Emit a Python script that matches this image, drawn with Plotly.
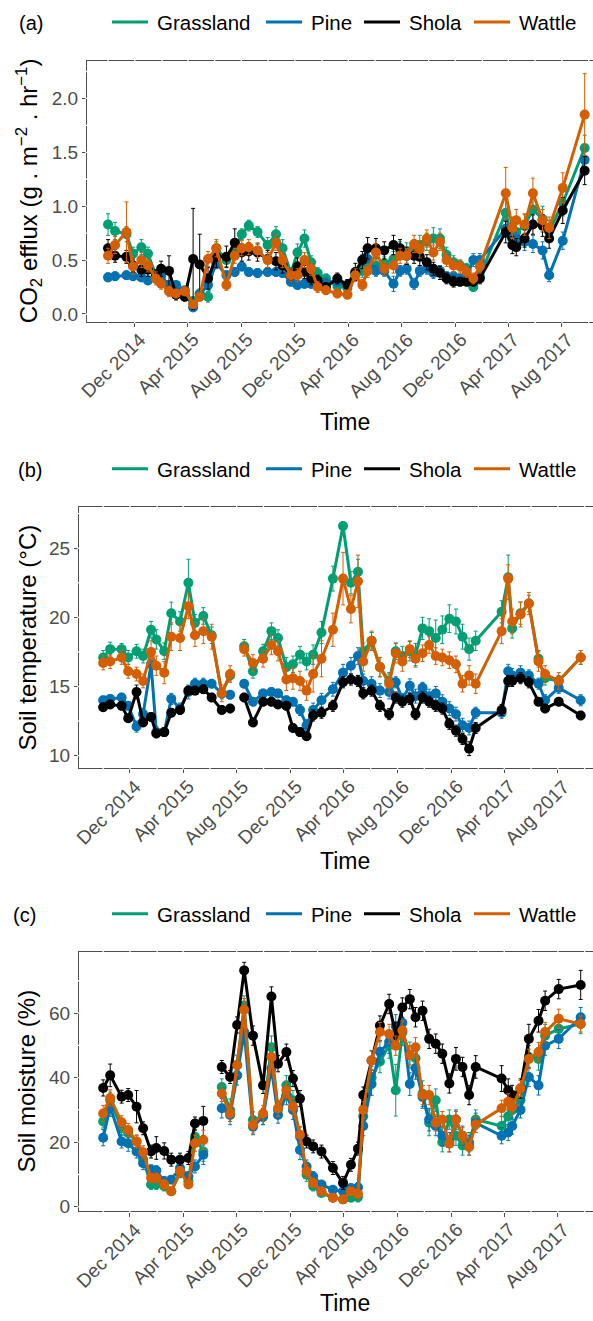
import plotly.graph_objects as go

# ---------------- data ----------------
dates = ["2014-10-01", "2014-10-17", "2014-11-12", "2014-11-27", "2014-12-16", "2014-12-31",
         "2015-01-18", "2015-01-30", "2015-02-17", "2015-03-05", "2015-03-25", "2015-04-13", "2015-04-28",
         "2015-05-17", "2015-06-05", "2015-06-28", "2015-07-17", "2015-08-02", "2015-08-18", "2015-09-07",
         "2015-09-30", "2015-10-19", "2015-11-03", "2015-11-22", "2015-12-07", "2015-12-23", "2016-01-07",
         "2016-01-22", "2016-02-10", "2016-03-07", "2016-03-30", "2016-04-17", "2016-05-03", "2016-05-15",
         "2016-06-03", "2016-06-22", "2016-07-13", "2016-07-28", "2016-08-12", "2016-08-29", "2016-09-11",
         "2016-09-27", "2016-10-12", "2016-10-27", "2016-11-11", "2016-11-27", "2016-12-12", "2016-12-27",
         "2017-01-11", "2017-01-26", "2017-03-26", "2017-04-10", "2017-04-19", "2017-05-08", "2017-05-27",
         "2017-06-18", "2017-07-03", "2017-08-03", "2017-09-22"]

series = ["Grassland", "Pine", "Shola", "Wattle"]

tick_dates = ["2014-12-01", "2015-04-01", "2015-08-01", "2015-12-01", "2016-04-01",
              "2016-08-01", "2016-12-01", "2017-04-01", "2017-08-01"]
tick_labels = ["Dec 2014", "Apr 2015", "Aug 2015", "Dec 2015", "Apr 2016",
               "Aug 2016", "Dec 2016", "Apr 2017", "Aug 2017"]

# (a) CO2 efflux (g m-2 hr-1)
co2_grassland = [0.83, 0.77, 0.74, 0.56, 0.62, 0.56, 0.36, 0.31, 0.27, 0.24,
                 0.19, 0.12, 0.19, 0.16, 0.61, 0.50, 0.59, 0.74, 0.82, 0.76,
                 0.64, 0.74, 0.61, 0.38, 0.57, 0.70, 0.48, 0.38, 0.33, 0.26,
                 0.24, 0.38, 0.40, 0.42, 0.45, 0.47, 0.51, 0.59, 0.58, 0.61,
                 0.64, 0.67, 0.70, 0.70, 0.55, 0.48, 0.45, 0.42, 0.25, 0.35,
                 0.94, 0.70, 0.76, 0.82, 0.97, 0.88, 0.77, 1.03, 1.54]
co2_pine = [0.34, 0.35, 0.36, 0.35, 0.34, 0.31, 0.33, 0.35, 0.27, 0.27,
            0.22, 0.06, 0.18, 0.27, 0.47, 0.36, 0.39, 0.44, 0.39, 0.38,
            0.39, 0.39, 0.38, 0.30, 0.27, 0.28, 0.28, 0.28, 0.29, 0.30,
            0.27, 0.38, 0.50, 0.51, 0.40, 0.40, 0.28, 0.40, 0.42, 0.28,
            0.40, 0.42, 0.38, 0.40, 0.35, 0.35, 0.33, 0.36, 0.50, 0.50,
            0.79, 0.70, 0.70, 0.67, 0.65, 0.59, 0.36, 0.68, 1.43]
co2_shola = [0.61, 0.54, 0.53, 0.45, 0.41, 0.41, 0.35, 0.42, 0.40, 0.18,
             0.16, 0.51, 0.46, 0.33, 0.53, 0.53, 0.66, 0.57, 0.58, 0.57,
             0.51, 0.49, 0.45, 0.36, 0.44, 0.39, 0.33, 0.31, 0.25, 0.33,
             0.27, 0.39, 0.50, 0.61, 0.61, 0.59, 0.64, 0.61, 0.54, 0.54,
             0.53, 0.48, 0.42, 0.38, 0.33, 0.30, 0.30, 0.30, 0.30, 0.33,
             0.76, 0.64, 0.62, 0.70, 0.83, 0.82, 0.70, 0.96, 1.33]
co2_wattle = [0.54, 0.64, 0.76, 0.44, 0.50, 0.45, 0.33, 0.28, 0.21, 0.19,
              0.21, 0.09, 0.16, 0.51, 0.61, 0.27, 0.54, 0.61, 0.62, 0.59,
              0.50, 0.66, 0.50, 0.36, 0.36, 0.50, 0.42, 0.25, 0.22, 0.19,
              0.18, 0.36, 0.27, 0.40, 0.57, 0.42, 0.45, 0.54, 0.54, 0.65,
              0.60, 0.70, 0.57, 0.67, 0.50, 0.45, 0.44, 0.39, 0.33, 0.44,
              1.12, 0.80, 0.87, 0.83, 1.12, 0.87, 0.80, 1.17, 1.85]
co2_grassland_se = [0.10, 0.08, 0.07, 0.06, 0.07, 0.06, 0.05, 0.05, 0.04, 0.04,
                    0.04, 0.03, 0.04, 0.05, 0.06, 0.06, 0.06, 0.05, 0.05, 0.05,
                    0.07, 0.07, 0.08, 0.05, 0.08, 0.08, 0.06, 0.05, 0.04, 0.04,
                    0.04, 0.05, 0.06, 0.06, 0.06, 0.06, 0.07, 0.08, 0.08, 0.08,
                    0.09, 0.08, 0.10, 0.09, 0.07, 0.06, 0.05, 0.05, 0.04, 0.05,
                    0.13, 0.10, 0.09, 0.10, 0.10, 0.12, 0.10, 0.12, 0.12]
co2_pine_se = [0.04, 0.04, 0.04, 0.04, 0.04, 0.03, 0.04, 0.04, 0.03, 0.03,
               0.03, 0.02, 0.03, 0.04, 0.05, 0.04, 0.04, 0.04, 0.04, 0.04,
               0.04, 0.04, 0.04, 0.04, 0.04, 0.04, 0.04, 0.04, 0.04, 0.04,
               0.04, 0.05, 0.05, 0.05, 0.05, 0.05, 0.07, 0.05, 0.05, 0.05,
               0.05, 0.05, 0.05, 0.05, 0.04, 0.04, 0.04, 0.04, 0.06, 0.06,
               0.08, 0.08, 0.08, 0.08, 0.08, 0.08, 0.06, 0.08, 0.10]
co2_shola_se = [0.08, 0.06, 0.06, 0.06, 0.06, 0.06, 0.06, 0.07, 0.14, 0.05,
                0.04, 0.47, 0.28, 0.10, 0.10, 0.10, 0.13, 0.08, 0.08, 0.08,
                0.08, 0.08, 0.07, 0.06, 0.08, 0.06, 0.06, 0.05, 0.04, 0.05,
                0.05, 0.08, 0.08, 0.10, 0.09, 0.08, 0.09, 0.08, 0.08, 0.07,
                0.08, 0.07, 0.06, 0.06, 0.05, 0.05, 0.04, 0.04, 0.04, 0.05,
                0.10, 0.08, 0.08, 0.08, 0.09, 0.10, 0.09, 0.12, 0.13]
co2_wattle_se = [0.07, 0.08, 0.28, 0.07, 0.07, 0.06, 0.06, 0.05, 0.05, 0.04,
                 0.04, 0.03, 0.04, 0.07, 0.08, 0.05, 0.07, 0.07, 0.07, 0.07,
                 0.07, 0.07, 0.07, 0.06, 0.06, 0.07, 0.06, 0.05, 0.04, 0.04,
                 0.04, 0.06, 0.05, 0.06, 0.08, 0.06, 0.07, 0.07, 0.07, 0.08,
                 0.08, 0.08, 0.07, 0.08, 0.06, 0.06, 0.06, 0.05, 0.05, 0.06,
                 0.24, 0.10, 0.10, 0.10, 0.14, 0.10, 0.10, 0.14, 0.38]

# (b) Soil temperature (deg C)
temp_grassland = [17.1, 17.7, 17.7, 17.1, 17.55, 17.2, 19.1, 18.4, 17.55, 20.3,
                  19.7, 22.5, 19.6, 20.1, 18.7, 14.5, 15.8, None, 17.9, 16.1,
                  17.55, 19.0, 18.5, 16.4, 16.6, 17.3, 16.8, 17.3, 18.9, 22.8,
                  26.6, 22.5, 23.3, 17.55, 18.3, 16.4, 15.4, 17.55, 17.2, 17.55,
                  17.3, 19.2, 19.0, 18.5, 19.1, 19.9, 19.7, 18.6, 17.7, 18.3,
                  20.4, 22.9, 19.2, 20.3, 21.0, 17.0, 15.6, 15.4, 17.1]
temp_pine = [14.0, 14.1, 14.2, 13.6, 12.1, 13.0, 16.6, 11.7, 11.7, 14.1,
             13.4, 14.6, 15.2, 15.2, 15.2, 14.5, 14.4, None, 15.2, 13.9,
             14.5, 14.6, 14.5, 14.0, 13.9, 13.3, 12.2, 13.3, 14.0, 14.8,
             16.0, 16.5, 17.2, 15.4, 15.2, 14.7, 14.6, 15.3, 14.1, 15.05,
             14.3, 14.9, 14.3, 14.5, 13.9, 13.4, 13.0, 12.2, 12.0, 13.1,
             13.1, 16.1, 15.8, 16.0, 15.8, 15.2, 14.0, 14.9, 14.0]
temp_shola = [13.5, 13.7, 13.6, 12.7, 14.6, 12.4, 12.8, 11.6, 11.7, 13.1,
              13.3, 14.7, 14.7, 14.8, 14.2, 13.3, 13.4, None, 14.2, 12.4,
              13.9, 13.9, 13.7, 13.6, 12.0, 11.7, 11.4, 12.9, 13.1, 13.6,
              15.3, 15.5, 15.4, 14.5, 14.7, 13.6, 13.0, 14.2, 13.9, 14.1,
              13.0, 14.2, 13.9, 13.6, 13.4, 12.3, 11.8, 11.2, 10.5, 12.0,
              13.3, 15.4, 15.4, 15.6, 15.3, 13.9, 13.4, 13.9, 12.9]
temp_wattle = [16.7, 16.8, 17.1, 16.1, 15.9, 15.4, 17.5, 16.5, 16.0, 18.6,
               18.5, 20.8, 18.7, 19.0, 18.6, 14.5, 15.9, None, 17.7, 16.7,
               17.0, 18.0, 17.55, 15.5, 15.6, 15.4, 14.7, 15.9, 17.0, 19.1,
               22.8, 20.6, 22.6, 16.8, 18.3, 16.4, 15.2, 17.4, 16.8, 17.7,
               17.0, 17.4, 18.0, 17.2, 17.1, 16.9, 16.6, 15.2, 15.8, 15.2,
               19.0, 22.8, 19.7, 20.2, 21.0, 16.8, 15.9, 15.4, 17.1]
temp_grassland_se = [0.5, 0.5, 0.4, 0.5, 0.5, 0.5, 0.6, 0.7, 0.6, 0.8,
                     0.7, 1.7, 0.6, 0.6, 0.6, 0.4, 0.4, 0, 0.5, 0.5,
                     0.5, 0.6, 0.6, 0.7, 0.6, 0.6, 0.6, 0.7, 0.8, 0.9,
                     0.3, 0.8, 0.9, 0.6, 0.6, 0.7, 0.6, 0.6, 0.7, 0.7,
                     0.8, 0.8, 0.9, 1.3, 1.0, 1.0, 0.9, 0.9, 0.8, 0.7,
                     0.8, 1.6, 0.7, 0.8, 0.6, 0.6, 0.5, 0.4, 0.5]
temp_pine_se = [0.3, 0.3, 0.3, 0.3, 0.4, 0.4, 0.8, 0.4, 0.3, 0.4,
                0.4, 0.5, 0.4, 0.4, 0.3, 0.3, 0.3, 0, 0.3, 0.3,
                0.3, 0.3, 0.3, 0.3, 0.3, 0.4, 0.4, 0.5, 0.5, 0.5,
                0.6, 0.6, 0.6, 0.5, 0.5, 0.5, 0.5, 0.4, 0.4, 0.5,
                0.5, 0.4, 0.5, 0.5, 0.5, 0.5, 0.5, 0.5, 0.5, 0.4,
                0.4, 0.5, 0.5, 0.5, 0.4, 0.4, 0.4, 0.4, 0.4]
temp_shola_se = [0.3, 0.3, 0.3, 0.3, 0.5, 0.3, 0.3, 0.3, 0.3, 0.3,
                 0.3, 0.3, 0.3, 0.3, 0.3, 0.3, 0.3, 0, 0.3, 0.3,
                 0.3, 0.3, 0.3, 0.3, 0.3, 0.3, 0.3, 0.4, 0.4, 0.4,
                 0.4, 0.4, 0.4, 0.4, 0.4, 0.4, 0.4, 0.4, 0.4, 0.4,
                 0.4, 0.4, 0.4, 0.4, 0.4, 0.4, 0.4, 0.4, 0.5, 0.4,
                 0.4, 0.4, 0.4, 0.4, 0.4, 0.3, 0.3, 0.3, 0.3]
temp_wattle_se = [0.5, 0.5, 0.5, 0.5, 0.5, 0.5, 0.8, 0.7, 0.8, 1.0,
                  0.9, 0.9, 0.8, 0.9, 0.9, 0.6, 0.6, 0, 0.5, 0.6,
                  0.6, 0.7, 0.7, 0.8, 0.8, 0.7, 0.7, 1.3, 1.3, 1.2,
                  1.9, 1.0, 1.9, 0.7, 0.7, 0.7, 0.7, 0.7, 0.7, 0.6,
                  0.6, 0.6, 0.6, 0.6, 0.6, 0.6, 0.6, 0.6, 0.7, 0.7,
                  0.9, 1.0, 0.9, 0.9, 0.8, 0.7, 0.6, 0.6, 0.5]

# (c) Soil moisture (%)
moist_grassland = [26.4, 33.0, 24.3, 22.8, 20.2, 14.6, 6.9, 6.9, 6.4, 4.8,
                   10.5, 7.9, 21.7, 17.1, None, 37.1, 29.9, 44.0, 62.3, 26.9,
                   28.0, 49.4, 30.0, 37.6, 33.0, 21.7, 9.9, 6.4, 4.3, 2.8,
                   2.3, 2.8, 3.0, 28.0, 40.0, 45.0, 50.0, 36.1, 54.0, 47.0,
                   46.0, 35.0, 26.0, 33.0, 20.0, 27.0, 22.0, 19.0, 20.0, 27.0,
                   25.0, 28.0, 30.0, 33.0, 46.4, 45.8, 53.0, 55.1, 56.6]
moist_pine = [21.4, 31.0, 20.2, 19.7, 17.1, 13.5, 11.5, 11.2, 7.9, 8.4,
              12.0, 9.4, 12.5, 16.1, None, 30.5, 28.4, 40.7, 54.1, 24.8,
              27.9, 42.8, 28.4, 34.6, 30.0, 17.6, 12.5, 9.4, 6.9, 5.3,
              4.8, 5.8, 6.0, 25.0, 38.0, 48.0, 51.0, 56.0, 57.0, 38.0,
              43.0, 34.0, 27.0, 25.0, 22.0, 20.0, 27.0, 22.0, 19.0, 26.0,
              22.0, 23.0, 25.0, 30.0, 40.2, 37.6, 49.9, 52.0, 58.7]
moist_shola = [36.8, 40.7, 34.1, 34.6, 31.0, 24.3, 17.1, 18.2, 17.3, 14.6,
               14.6, 15.1, 25.8, 26.6, None, 43.3, 40.2, 56.3, 73.2, 53.0,
               37.6, 65.1, 44.3, 47.9, 39.7, 33.5, 20.2, 18.7, 17.1, 12.0,
               7.4, 13.0, 18.0, 34.6, 45.3, 56.1, 62.8, 53.0, 61.7, 64.3,
               58.7, 60.7, 52.0, 50.5, 47.4, 38.2, 45.8, 43.3, 34.6, 43.3,
               39.7, 36.1, 34.6, 36.6, 52.0, 57.6, 63.8, 67.4, 68.7]
moist_wattle = [28.9, 33.7, 26.2, 23.8, 20.2, 16.9, 8.9, 8.9, 6.9, 4.8,
                11.0, 6.9, 19.7, 20.7, None, 35.1, 28.9, 43.8, 61.0, 25.3,
                28.9, 46.4, 30.5, 36.1, 31.0, 22.3, 11.0, 7.4, 4.8, 2.8,
                2.3, 4.8, 4.0, 30.0, 45.3, 54.1, 53.5, 49.9, 54.6, 46.9,
                49.4, 34.6, 34.6, 26.0, 27.0, 19.5, 27.0, 22.0, 18.5, 25.5,
                30.5, 32.5, 31.0, 36.6, 45.8, 47.9, 54.1, 58.2, 56.6]
moist_grassland_se = [2.0, 2.5, 2.0, 2.0, 2.0, 2.0, 1.5, 1.5, 1.5, 1.0,
                      1.5, 1.5, 2.0, 3.0, 0, 2.5, 3.5, 3.0, 3.0, 2.5,
                      2.5, 3.5, 2.5, 3.0, 3.0, 3.0, 2.0, 1.5, 1.0, 1.0,
                      1.0, 1.0, 1.5, 3.0, 3.5, 3.5, 4.0, 8.0, 4.0, 4.0,
                      4.0, 4.0, 4.0, 3.5, 3.0, 3.0, 3.0, 3.0, 3.0, 3.0,
                      3.0, 3.0, 3.0, 3.0, 3.5, 3.5, 3.5, 3.5, 3.0]
moist_pine_se = [2.5, 3.0, 2.0, 2.5, 2.0, 2.0, 1.5, 1.5, 1.5, 1.0,
                 1.5, 1.5, 2.0, 3.0, 0, 3.0, 3.0, 3.0, 3.0, 2.5,
                 2.5, 3.0, 2.5, 3.0, 3.0, 3.0, 2.0, 1.5, 1.0, 1.0,
                 1.0, 1.0, 1.5, 3.0, 3.5, 3.5, 3.5, 3.5, 3.5, 3.5,
                 3.5, 3.5, 3.5, 3.0, 3.0, 3.0, 3.0, 3.0, 3.0, 3.0,
                 2.5, 2.5, 2.5, 2.5, 3.0, 3.0, 3.0, 3.0, 3.0]
moist_shola_se = [2.5, 3.5, 2.0, 2.0, 5.0, 2.0, 2.0, 3.5, 2.5, 2.0,
                  2.0, 2.0, 2.0, 4.5, 0, 2.0, 2.0, 2.5, 2.5, 3.0,
                  2.5, 3.0, 2.5, 2.5, 2.5, 2.5, 2.0, 2.0, 2.0, 2.0,
                  2.0, 2.0, 2.0, 2.5, 3.0, 3.0, 3.0, 4.0, 3.0, 3.0,
                  3.0, 3.0, 3.0, 3.0, 3.0, 3.0, 3.5, 3.0, 3.0, 3.5,
                  4.0, 3.5, 3.0, 3.0, 4.5, 3.5, 3.0, 3.0, 4.5]
moist_wattle_se = [2.5, 2.5, 2.0, 2.0, 2.0, 2.0, 1.5, 1.5, 1.5, 1.0,
                   1.5, 1.0, 2.5, 3.0, 0, 2.5, 2.5, 3.0, 3.5, 2.5,
                   2.5, 3.0, 2.5, 2.5, 2.5, 2.5, 2.0, 1.5, 1.0, 1.0,
                   1.0, 1.0, 1.5, 2.5, 3.0, 3.0, 3.0, 3.0, 3.0, 3.0,
                   3.0, 3.0, 3.0, 2.5, 2.5, 2.5, 2.5, 2.5, 2.5, 2.5,
                   2.5, 2.5, 2.5, 2.5, 3.0, 3.0, 3.0, 3.0, 2.5]

# ---------------- styling ----------------
W, H = 593, 1321
FONT = "Liberation Sans, Arial, Helvetica, sans-serif"
colors = ["#009E73", "#0072B2", "#000000", "#D55E00"]
AX = "#4D4D4D"
TICK_SIZE = 19

# legend key geometry in pixels: (line start, line end, text start)
legend_keys = [(112, 148, 155), (266, 302, 309), (364, 400, 407), (474, 510, 517)]


def fx(px):
    return px / W


def fy(px):
    return 1 - px / H


panels = [
    dict(vals=[co2_grassland, co2_pine, co2_shola, co2_wattle],
         errs=[co2_grassland_se, co2_pine_se, co2_shola_se, co2_wattle_se],
         xpx=(87, 593), ypx=(61, 323), xr=["2014-08-14", "2017-10-11"], yr=[-0.07, 2.35],
         ytv=[0, 0.5, 1.0, 1.5, 2.0], ytt=["0.0", "0.5", "1.0", "1.5", "2.0"], ystep=0.25,
         ytitle="CO<sub>2</sub> efflux (g . m<sup>−2</sup> . hr<sup>−1</sup>)", ytx=29,
         tag="(a)", tagx=17, tagy=23, legy=23, timey=424),
    dict(vals=[temp_grassland, temp_pine, temp_shola, temp_wattle],
         errs=[temp_grassland_se, temp_pine_se, temp_shola_se, temp_wattle_se],
         xpx=(79, 593), ypx=(509, 771.7), xr=["2014-08-07", "2017-10-20"], yr=[9.09, 28.0],
         ytv=[10, 15, 20, 25], ytt=["10", "15", "20", "25"], ystep=2.5,
         ytitle="Soil temperature (°C)", ytx=27,
         tag="(b)", tagx=16, tagy=472, legy=472, timey=865),
    dict(vals=[moist_grassland, moist_pine, moist_shola, moist_wattle],
         errs=[moist_grassland_se, moist_pine_se, moist_shola_se, moist_wattle_se],
         xpx=(79, 593), ypx=(956, 1217), xr=["2014-08-07", "2017-10-20"], yr=[-1.45, 79.0],
         ytv=[0, 20, 40, 60], ytt=["0", "20", "40", "60"], ystep=10,
         ytitle="Soil moisture (%)", ytx=27,
         tag="(c)", tagx=11, tagy=919, legy=919, timey=1309),
]

fig = go.Figure()
annotations = []
shapes = []
layout = dict(width=W, height=H, margin=dict(l=0, r=0, t=0, b=0),
              paper_bgcolor="white", plot_bgcolor="white", showlegend=False,
              font=dict(family=FONT, color="black"))

gap_months = []
for yy in (2014, 2015, 2016, 2017):
    for mm in (2, 4, 6, 8, 10, 12):
        gap_months.append(f"{yy}-{mm:02d}-01")

for pi, p in enumerate(panels):
    n = "" if pi == 0 else str(pi + 1)
    xa, ya = "x" + n, "y" + n
    for si, name in enumerate(series):
        fig.add_trace(go.Scatter(
            x=dates, y=p["vals"][si], mode="lines+markers", name=name,
            line=dict(color=colors[si], width=3),
            marker=dict(size=10, color=colors[si]),
            error_y=dict(type="data", array=p["errs"][si], color=colors[si],
                         thickness=1, width=2),
            connectgaps=False, showlegend=False, xaxis=xa, yaxis=ya))

    layout["xaxis" + n] = dict(
        domain=[fx(p["xpx"][0]), fx(p["xpx"][1])], range=p["xr"], type="date",
        anchor=ya, tickvals=tick_dates, showticklabels=False,
        ticks="outside", ticklen=4, tickcolor=AX, showline=True, linecolor=AX,
        linewidth=1.2, mirror=True, showgrid=False, zeroline=False)
    layout["yaxis" + n] = dict(
        domain=[fy(p["ypx"][1]), fy(p["ypx"][0])], range=p["yr"], anchor=xa,
        tickvals=p["ytv"], ticktext=p["ytt"],
        tickfont=dict(size=TICK_SIZE, color=AX, family=FONT), ticks="outside", ticklen=4,
        tickcolor=AX, showline=True, linecolor=AX, linewidth=1.2,
        showgrid=False, zeroline=False)

    # rotated x tick labels (top-right corner at the tick, like hjust = vjust = 1)
    for td, tl in zip(tick_dates, tick_labels):
        annotations.append(dict(text=tl, x=td, xref=xa, y=fy(p["ypx"][1] + 5), yref="paper",
                                xanchor="right", yanchor="top", textangle=-45, xshift=18,
                                showarrow=False, font=dict(size=TICK_SIZE, color=AX, family=FONT)))

    # legend drawn as keys + labels above each panel
    for si, name in enumerate(series):
        l0, l1, t0 = legend_keys[si]
        shapes.append(dict(type="line", xref="paper", yref="paper",
                           x0=fx(l0), x1=fx(l1), y0=fy(p["legy"] - 1), y1=fy(p["legy"] - 1),
                           line=dict(color=colors[si], width=3)))
        annotations.append(dict(text=name, x=fx(t0), y=fy(p["legy"]), xref="paper", yref="paper",
                                xanchor="left", yanchor="middle", showarrow=False,
                                font=dict(size=20.5, color="black", family=FONT)))

    annotations.append(dict(text=p["tag"], x=fx(p["tagx"]), y=fy(p["tagy"]),
                            xref="paper", yref="paper", xanchor="left", yanchor="middle",
                            showarrow=False, font=dict(size=20, color="black", family=FONT)))
    annotations.append(dict(text=p["ytitle"], x=fx(p["ytx"]),
                            y=fy((p["ypx"][0] + p["ypx"][1]) / 2),
                            xref="paper", yref="paper", xanchor="center", yanchor="middle",
                            textangle=-90, showarrow=False,
                            font=dict(size=24, color="black", family=FONT)))
    annotations.append(dict(text="Time", x=fx(345), y=fy(p["timey"]),
                            xref="paper", yref="paper", xanchor="center", yanchor="middle",
                            showarrow=False, font=dict(size=23, color="black", family=FONT)))

    # thin white breaks across the frame lines at grid positions
    top, bot = p["ypx"]
    for gm in gap_months:
        if p["xr"][0] < gm < p["xr"][1]:
            for yc in (top, bot):
                shapes.append(dict(type="line", xref=xa, yref="paper", x0=gm, x1=gm,
                                   y0=fy(yc - 1.6), y1=fy(yc + 1.6), layer="above",
                                   line=dict(color="white", width=1.3)))
    v = p["yr"][0] - (p["yr"][0] % p["ystep"]) + p["ystep"]
    while v < p["yr"][1]:
        shapes.append(dict(type="line", xref="paper", yref=ya, y0=v, y1=v,
                           x0=fx(p["xpx"][0] - 1.6), x1=fx(p["xpx"][0] + 1.6), layer="above",
                           line=dict(color="white", width=1.3)))
        v += p["ystep"]

layout["annotations"] = annotations
layout["shapes"] = shapes
fig.update_layout(**layout)
fig.write_html("out.html")
